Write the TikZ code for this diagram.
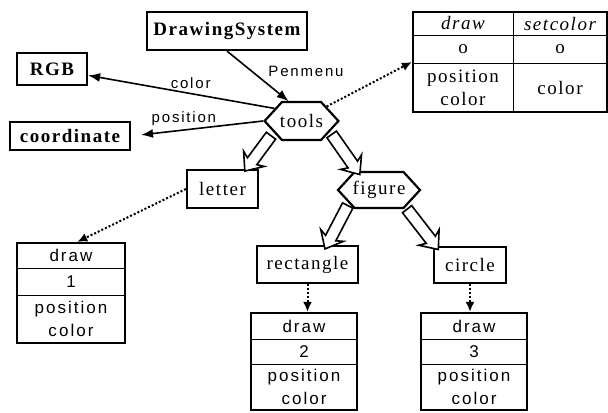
\documentclass[tikz,border=0pt]{standalone}
\usepackage{fontspec}
\newfontfamily\namefont{Liberation Serif}[LetterSpace=8]
\newfontfamily\cellfont{Liberation Sans}[LetterSpace=12]
\usetikzlibrary{arrows.meta, shapes.symbols, shapes.arrows}

\tikzset{
  namebox/.style={draw, line width=1.1pt, inner sep=0pt, font=\namefont\fontsize{9.5}{11}\selectfont},
  hexbox/.style={draw, line width=1.1pt, signal, signal to=east and west, signal pointer angle=95,
    inner xsep=-1pt, inner ysep=0pt, font=\namefont\fontsize{9.5}{11}\selectfont},
  tblbox/.style={draw, line width=1.1pt, inner sep=0pt},
  cell/.style={inner sep=0pt, align=center, font=\cellfont\fontsize{8.5}{11.5}\selectfont},
  serifcell/.style={inner sep=0pt, align=center, font=\namefont\fontsize{9.5}{11.5}\selectfont},
  rolelabel/.style={font=\cellfont\fontsize{7.5}{9}\selectfont, inner sep=2pt},
  assoc/.style={line width=0.8pt, -{Latex[length=6pt,width=4.5pt]}},
  dotref/.style={line width=1pt, densely dotted, -{Latex[length=5pt,width=4.5pt]}},
  fatarrow/.style={single arrow, draw, fill=white, line width=0.8pt, inner sep=2.5pt,
    single arrow head extend=3.5pt, single arrow tip angle=80, single arrow head indent=1.5pt,
    sloped, allow upside down, midway}
}

\begin{document}
\begin{tikzpicture}[x=0.5pt, y=-0.5pt]
  \useasboundingbox (0,0) rectangle (608,412);

  % class boxes
  \node (ds) [namebox, minimum width=80pt, minimum height=19pt] at (227,31) {\bfseries DrawingSystem};
  \node (rgb) [namebox, minimum width=35pt, minimum height=16pt] at (52,69) {\bfseries RGB};
  \node (coord) [namebox, minimum width=60pt, minimum height=14pt] at (70,136) {\bfseries coordinate};
  \node (tools) [hexbox, minimum height=19pt] at (301.5,121) {tools};
  \node (letter) [namebox, minimum width=35.5pt, minimum height=19pt] at (222.5,189) {letter};
  \node (figure) [hexbox, minimum height=18pt] at (379,190) {figure};
  \node (rect) [namebox, minimum width=50.5pt, minimum height=18.5pt] at (307.5,264.5) {rectangle};
  \node (circ) [namebox, minimum width=36pt, minimum height=18pt] at (470,265) {circle};

  % method tables
  \node (tabA) [tblbox, minimum width=97pt, minimum height=50pt] at (510,62) {};
  \draw[line width=0.5pt] (413,35) -- (607,35) (413,63) -- (607,63) (513,12) -- (513,112);
  \node (a11) [serifcell] at (463,23.5) {\itshape draw};
  \node (a12) [serifcell] at (560,23.5) {\itshape setcolor};
  \node (a21) [serifcell] at (463,49) {o};
  \node (a22) [serifcell] at (560,49) {o};
  \node (a31) [serifcell] at (463,88) {position\\color};
  \node (a32) [serifcell] at (560,88) {color};

  \node (tabB) [tblbox, minimum width=54pt, minimum height=50pt] at (71,293) {};
  \draw[line width=0.5pt] (17,268) -- (125,268) (17,295) -- (125,295);
  \node (b1) [cell] at (71,255.5) {draw};
  \node (b2) [cell] at (71,281.5) {1};
  \node (b3) [cell] at (71,319) {position\\color};

  \node (tabC) [tblbox, minimum width=53pt, minimum height=48.5pt] at (304,361.5) {};
  \draw[line width=0.5pt] (251,339) -- (357,339) (251,364) -- (357,364);
  \node (c1) [cell] at (304,326) {draw};
  \node (c2) [cell] at (304,351.5) {2};
  \node (c3) [cell] at (304,387) {position\\color};

  \node (tabD) [tblbox, minimum width=53pt, minimum height=48.5pt] at (474,361.5) {};
  \draw[line width=0.5pt] (421,339) -- (527,339) (421,364) -- (527,364);
  \node (d1) [cell] at (474,326) {draw};
  \node (d2) [cell] at (474,351.5) {3};
  \node (d3) [cell] at (474,387) {position\\color};

  % associations
  \draw[assoc] (ds.south) -- node[rolelabel, right, pos=0.4, xshift=6pt] {Penmenu} (tools.123);
  \draw[assoc] (tools.155) -- node[rolelabel, above, pos=0.45] {color} (rgb.350);
  \draw[assoc, shorten >=5pt] (tools.west) -- node[rolelabel, above, pos=0.6] {position} (coord.east);

  % method references
  \draw[dotref] (tools.30) -- (tabA.west);
  \draw[dotref] (letter.west) -- (tabB.83);
  \draw[dotref] (rect.south) -- (rect.south |- tabC.north);
  \draw[dotref] (circ.south) -- (circ.south |- tabD.north);

  % inheritance
  \path (tools.202) -- node[fatarrow, minimum height=22pt] {} (letter.40);
  \path (tools.339) -- node[fatarrow, minimum height=24.5pt] {} (figure.139);
  \path (figure.204) -- node[fatarrow, minimum height=24.5pt] {} (rect.45);
  \path (figure.327) -- node[fatarrow, minimum height=25.5pt] {} (circ.151);
\end{tikzpicture}
\end{document}
